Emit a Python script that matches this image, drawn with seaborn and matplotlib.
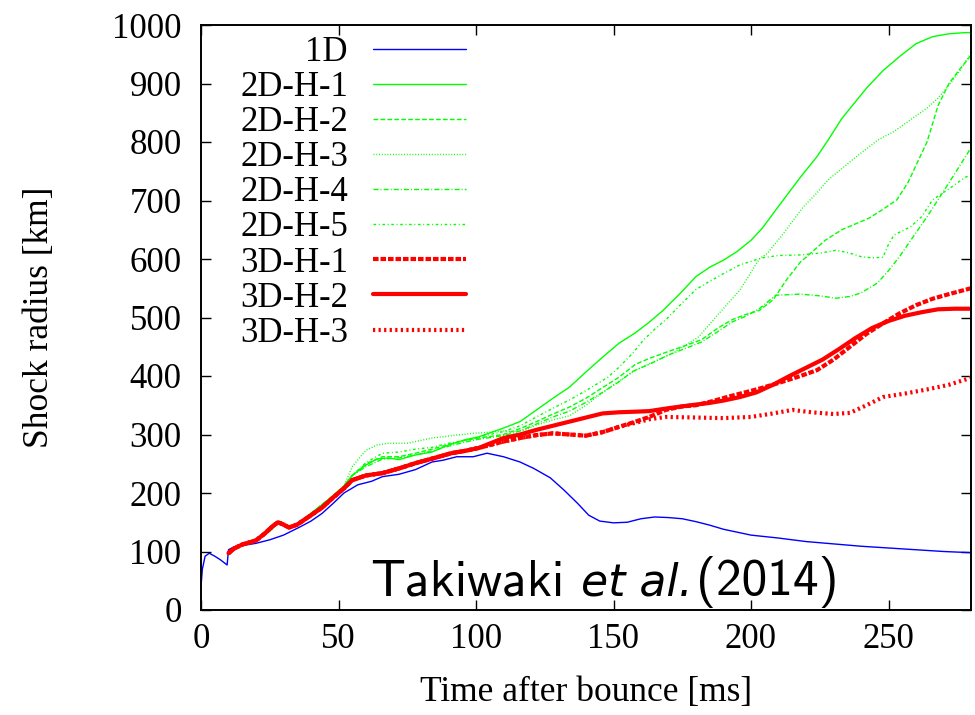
import matplotlib
matplotlib.use("Agg")
import matplotlib.pyplot as plt
import seaborn as sns
import numpy as np
import pandas as pd

# ---------------- data ----------------
t_1d = [0, 0.5, 1.5, 3, 5, 7, 9.5, 10, 12, 15, 20, 25, 30, 36, 40, 44, 48, 52, 57, 62, 66, 72, 78, 84, 88,
        93, 99, 104, 110, 116, 121, 127, 132, 137, 141, 145, 150, 155, 160, 165, 170, 175, 180, 185, 190,
        195, 200, 210, 220, 230, 240, 250, 260, 270, 280]
r_1d = [40, 70, 92, 97, 92, 86, 77, 103, 108, 110, 114, 120, 128, 142, 152, 165, 182, 200, 214, 220, 228,
        232, 240, 253, 256, 262, 262, 268, 262, 253, 242, 226, 205, 182, 162, 152, 149, 150, 156, 159, 158,
        156, 151, 145, 138, 133, 128, 123, 117, 113, 109, 106, 103, 100, 98]

t_2d_early = [10, 15, 20, 25, 28, 32, 36, 40, 44, 48, 52, 55]
r_2d_early = [97, 112, 119, 135, 150, 142, 150, 165, 180, 195, 212, 230]

t_2dh1 = t_2d_early + [60, 64, 68, 72, 78, 84, 90, 96, 101, 110, 116, 122, 128, 134, 140, 146, 152, 158, 163,
                       168, 174, 180, 185, 190, 195, 200, 204, 210, 218, 224, 228, 233, 242, 248, 254, 260,
                       266, 272, 278, 280]
r_2dh1 = r_2d_early + [248, 258, 260, 257, 265, 270, 282, 291, 296, 311, 322, 342, 362, 381, 407, 432, 456,
                       474, 492, 512, 540, 570, 586, 598, 613, 632, 652, 690, 740, 775, 803, 840, 892, 922,
                       946, 968, 980, 985, 987, 987]

t_2dh2 = t_2d_early + [60, 66, 72, 78, 84, 90, 96, 101, 110, 116, 122, 128, 134, 140, 146, 152, 158, 163, 170,
                       175, 182, 188, 193, 198, 203, 208, 213, 218, 221, 227, 233, 238, 243, 248, 253, 257,
                       264, 268, 272, 276, 280]
r_2dh2 = r_2d_early + [250, 262, 262, 268, 275, 283, 290, 294, 300, 310, 322, 335, 347, 362, 380, 398, 420,
                       430, 442, 450, 462, 482, 496, 505, 512, 530, 565, 595, 607, 632, 650, 660, 670, 685,
                       701, 730, 800, 862, 900, 925, 948]

t_2dh3 = t_2d_early + [58, 60, 64, 68, 75, 80, 84, 93, 99, 105, 110, 114, 118, 122, 128, 134, 140, 145, 150,
                       158, 165, 172, 181, 188, 196, 203, 206, 212, 219, 224, 228, 237, 246, 252, 258, 264,
                       268, 272, 276, 280]
r_2dh3 = r_2d_early[:-1] + [245] + [262, 273, 282, 285, 285, 290, 294, 299, 302, 304, 306, 305, 308, 316, 325,
                                   332, 350, 368, 385, 410, 425, 440, 467, 505, 547, 600, 610, 645, 689, 713,
                                   735, 770, 803, 818, 838, 858, 875, 897, 922, 952]

t_2dh4 = t_2d_early + [60, 66, 72, 78, 84, 90, 96, 101, 110, 116, 122, 128, 134, 140, 146, 152, 157, 163, 170,
                       175, 182, 188, 193, 198, 203, 209, 218, 225, 231, 236, 240, 246, 250, 254, 260, 264,
                       271, 276, 280]
r_2dh4 = r_2d_early + [245, 258, 260, 265, 272, 280, 287, 292, 298, 306, 318, 330, 340, 355, 372, 390, 408,
                       420, 436, 445, 458, 476, 492, 502, 515, 538, 540, 537, 533, 536, 542, 559, 580, 604,
                       645, 672, 723, 760, 790]

t_2dh5 = t_2d_early + [60, 66, 72, 78, 84, 90, 96, 101, 110, 116, 122, 128, 134, 140, 148, 152, 157, 161, 165,
                       169, 175, 180, 185, 190, 196, 204, 210, 218, 225, 231, 236, 240, 244, 248, 250, 252,
                       258, 262, 266, 272, 278, 280]
r_2dh5 = r_2d_early + [252, 268, 270, 275, 278, 285, 290, 296, 305, 315, 330, 345, 359, 375, 398, 415, 439,
                       462, 480, 496, 525, 548, 562, 575, 590, 602, 606, 607, 610, 615, 610, 604, 602, 603,
                       625, 641, 655, 672, 701, 720, 740, 743]

t_3d_early = [10, 12, 15, 18, 20, 23, 26, 28, 30, 32, 35, 40, 44, 48, 52, 55, 60, 66, 72, 78, 85, 91, 96, 101]
r_3d_early = [97, 105, 112, 116, 119, 130, 143, 150, 146, 141, 146, 162, 175, 192, 208, 222, 230, 234, 242,
              251, 260, 268, 272, 277]

t_3dh1 = t_3d_early + [110, 116, 122, 128, 134, 140, 146, 152, 158, 163, 169, 175, 180, 186, 192, 202, 210,
                       218, 224, 230, 236, 242, 248, 254, 260, 266, 272, 280]
r_3dh1 = r_3d_early + [288, 294, 299, 302, 300, 298, 304, 313, 322, 330, 342, 348, 350, 357, 365, 377, 388,
                       400, 410, 428, 450, 472, 490, 507, 521, 532, 540, 550]

t_3dh2 = t_3d_early + [110, 116, 122, 128, 134, 140, 146, 152, 158, 163, 170, 178, 185, 190, 196, 202, 208,
                       214, 220, 226, 232, 238, 244, 250, 256, 262, 268, 274, 280]
r_3dh2 = r_3d_early + [294, 300, 308, 315, 322, 329, 336, 338, 339, 340, 345, 350, 354, 358, 364, 372, 385,
                       400, 414, 428, 446, 465, 482, 494, 503, 509, 514, 515, 515]

t_3dh3 = t_3d_early + [110, 116, 122, 128, 134, 140, 146, 152, 158, 163, 169, 180, 190, 200, 208, 215, 222,
                       230, 236, 242, 248, 256, 264, 272, 280]
r_3dh3 = r_3d_early + [288, 294, 299, 302, 300, 298, 304, 313, 320, 326, 330, 329, 328, 330, 336, 342, 338,
                       335, 337, 350, 364, 370, 377, 385, 397]

labels = ["1D", "2D-H-1", "2D-H-2", "2D-H-3", "2D-H-4", "2D-H-5", "3D-H-1", "3D-H-2", "3D-H-3"]
x_ticks = [0, 50, 100, 150, 200, 250]
y_ticks = [0, 100, 200, 300, 400, 500, 600, 700, 800, 900, 1000]

series = [
    (t_1d, r_1d), (t_2dh1, r_2dh1), (t_2dh2, r_2dh2), (t_2dh3, r_2dh3), (t_2dh4, r_2dh4),
    (t_2dh5, r_2dh5), (t_3dh1, r_3dh1), (t_3dh2, r_3dh2), (t_3dh3, r_3dh3),
]

# ---------------- styles ----------------
BLUE, GREEN, RED = "#0000ff", "#00ff00", "#ff0000"
styles = [
    dict(color=BLUE, lw=1.0, ls="-"),
    dict(color=GREEN, lw=1.0, ls="-"),
    dict(color=GREEN, lw=1.0, ls=(0, (3.4, 1.6))),
    dict(color=GREEN, lw=1.0, ls=(0, (0.7, 1.3))),
    dict(color=GREEN, lw=1.0, ls=(0, (3.6, 1.5, 0.7, 1.5))),
    dict(color=GREEN, lw=1.0, ls=(0, (1.9, 1.9, 0.7, 1.9))),
    dict(color=RED, lw=3.0, ls=(0, (4.0, 1.4))),
    dict(color=RED, lw=3.0, ls="-"),
    dict(color=RED, lw=3.0, ls=(0, (1.6, 2.4))),
]

sns.set_style("ticks")
plt.rcParams["font.family"] = ["Liberation Serif", "DejaVu Serif"]
plt.rcParams["lines.scale_dashes"] = False
for k in ["text.color", "axes.labelcolor", "xtick.color", "ytick.color", "axes.edgecolor"]:
    plt.rcParams[k] = "black"

fig = plt.figure(figsize=(9.75, 7.15), dpi=100)
ax = fig.add_axes([201 / 975, 1 - 610 / 715, 770 / 975, 585 / 715])

for (tt, rr), lab, st in zip(series, labels, styles):
    df = pd.DataFrame({"t": tt, "r": rr})
    sns.lineplot(data=df, x="t", y="r", ax=ax, color=st["color"], linewidth=st["lw"],
                 linestyle=st["ls"], label=lab, estimator=None, sort=False)

ax.set_xlim(0, 280)
ax.set_ylim(0, 1000)
ax.set_xticks(x_ticks)
ax.set_yticks(y_ticks)
ax.tick_params(direction="in", length=7, width=1.0, top=True, right=True, labelsize=25,
               colors="black")
ax.tick_params(axis="y", pad=14)
ax.tick_params(axis="x", pad=9)
for s in ax.spines.values():
    s.set_linewidth(1.4)
    s.set_color("black")
    s.set_visible(True)

ax.set_xlabel("Time after bounce [ms]", fontsize=25.5, labelpad=15)
ax.set_ylabel("Shock radius [km]", fontsize=25.5, labelpad=40)

leg = ax.legend(loc="upper left", bbox_to_anchor=(240 / 975, 1 - 36 / 715),
                bbox_transform=fig.transFigure, frameon=False, markerfirst=False,
                fontsize=25, handlelength=2.68, handletextpad=0.72, labelspacing=0.06,
                borderpad=0, borderaxespad=0)

# annotation "Takiwaki et al.(2014)"
fig.canvas.draw()
rend = fig.canvas.get_renderer()
W, H = fig.bbox.width, fig.bbox.height
xpix, ypix = 370, 715 - 595
S = 37
t1 = fig.text(xpix / W, ypix / H, "Takiwaki", family="cmss10", fontsize=S, va="baseline")
bb = t1.get_window_extent(rend)
t2 = fig.text((bb.x1 + 17) / W, ypix / H, "et al.", family="DejaVu Sans", style="oblique",
              fontsize=S * 0.86, va="baseline")
bb2 = t2.get_window_extent(rend)
t3 = fig.text((bb2.x1 + 3) / W, ypix / H, "(2014)", family="cmss10", fontsize=S, va="baseline")

fig.savefig("out.png", dpi=100)
